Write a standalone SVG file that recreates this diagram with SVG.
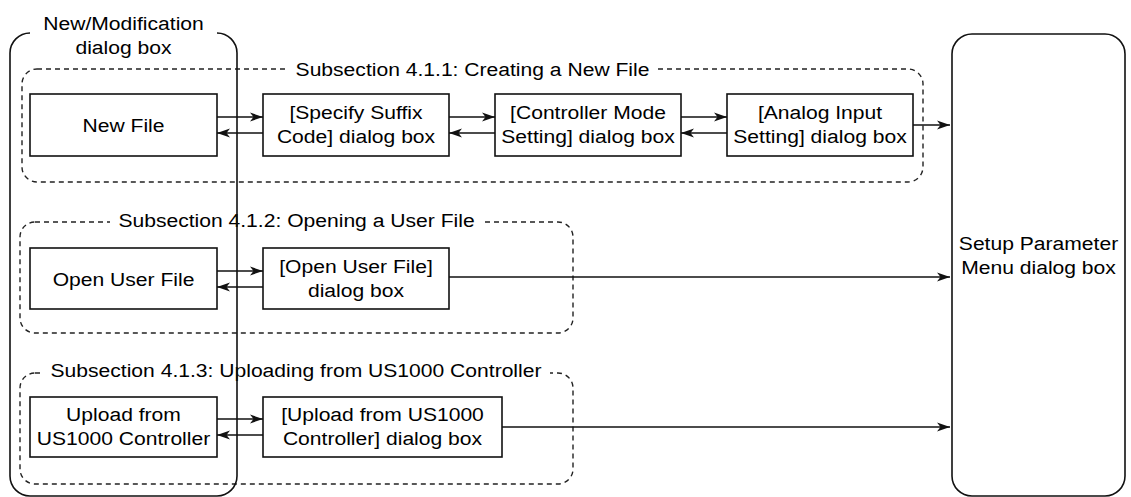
<svg xmlns="http://www.w3.org/2000/svg" width="1131" height="497" viewBox="0 0 1131 497">
<defs>
<style>
.box{fill:#fff;stroke:#111;stroke-width:1.6}
.frame{fill:none;stroke:#111;stroke-width:1.6}
.grp{fill:none;stroke:#222;stroke-width:1.4;stroke-dasharray:5 4}
.bg{fill:#fff;stroke:none}
.t{font-family:"Liberation Sans",Arial,sans-serif;font-size:19px;fill:#000;text-anchor:middle}
.conn{stroke:#111;stroke-width:1.5;fill:none;marker-end:url(#ah)}
</style>
<marker id="ah" markerWidth="14" markerHeight="10" refX="13" refY="5" orient="auto" markerUnits="userSpaceOnUse">
<path d="M0,0.5 L13,5 L0,9.5 L3.5,5 Z" fill="#111"/>
</marker>
</defs>
<rect width="1131" height="497" fill="#fff"/>

<g id="group-4-1-1">
<rect class="grp" x="22" y="69" width="901" height="113" rx="15"/>
<rect class="bg" x="288" y="58" width="369" height="22"/>
<text class="t" transform="translate(472.5 76) scale(1.11 1)">Subsection 4.1.1: Creating a New File</text>
</g>
<g id="group-4-1-2">
<rect class="grp" x="20" y="222" width="553" height="111" rx="15"/>
<rect class="bg" x="110" y="211" width="372" height="22"/>
<text class="t" transform="translate(296.5 227) scale(1.11 1)">Subsection 4.1.2: Opening a User File</text>
</g>
<g id="group-4-1-3">
<rect class="grp" x="20" y="373" width="553" height="111" rx="15"/>
<rect class="bg" x="42" y="362" width="508" height="22"/>
<text class="t" transform="translate(296 377) scale(1.11 1)">Subsection 4.1.3: Uploading from US1000 Controller</text>
</g>

<g id="node-new-file">
<rect class="box" x="30" y="94" width="187" height="62"/>
<text class="t" transform="translate(123.5 132) scale(1.11 1)">New File</text>
</g>
<g id="node-specify-suffix">
<rect class="box" x="263" y="94" width="186" height="62"/>
<text class="t" transform="translate(356 0) scale(1.11 1)"><tspan x="0" y="119">[Specify Suffix</tspan><tspan x="0" y="143">Code] dialog box</tspan></text>
</g>
<g id="node-controller-mode">
<rect class="box" x="495" y="94" width="186" height="62"/>
<text class="t" transform="translate(588 0) scale(1.11 1)"><tspan x="0" y="119">[Controller Mode</tspan><tspan x="0" y="143">Setting] dialog box</tspan></text>
</g>
<g id="node-analog-input">
<rect class="box" x="727" y="94" width="186" height="62"/>
<text class="t" transform="translate(820 0) scale(1.11 1)"><tspan x="0" y="119">[Analog Input</tspan><tspan x="0" y="143">Setting] dialog box</tspan></text>
</g>
<g id="node-open-user-file">
<rect class="box" x="30" y="248" width="187" height="61"/>
<text class="t" transform="translate(123.5 286) scale(1.11 1)">Open User File</text>
</g>
<g id="node-open-user-file-dialog">
<rect class="box" x="263" y="248" width="186" height="61"/>
<text class="t" transform="translate(356 0) scale(1.11 1)"><tspan x="0" y="273">[Open User File]</tspan><tspan x="0" y="297">dialog box</tspan></text>
</g>
<g id="node-upload">
<rect class="box" x="30" y="397" width="187" height="60"/>
<text class="t" transform="translate(123.5 0) scale(1.11 1)"><tspan x="0" y="421">Upload from</tspan><tspan x="0" y="445">US1000 Controller</tspan></text>
</g>
<g id="node-upload-dialog">
<rect class="box" x="263" y="397" width="239" height="60"/>
<text class="t" transform="translate(382.5 0) scale(1.11 1)"><tspan x="0" y="421">[Upload from US1000</tspan><tspan x="0" y="445">Controller] dialog box</tspan></text>
</g>

<g id="connectors">
<line class="conn" x1="217" y1="117" x2="263" y2="117"/>
<line class="conn" x1="263" y1="133" x2="217" y2="133"/>
<line class="conn" x1="449" y1="117" x2="495" y2="117"/>
<line class="conn" x1="495" y1="133" x2="449" y2="133"/>
<line class="conn" x1="681" y1="117" x2="727" y2="117"/>
<line class="conn" x1="727" y1="133" x2="681" y2="133"/>
<line class="conn" x1="913" y1="125" x2="950" y2="125"/>
<line class="conn" x1="217" y1="271" x2="263" y2="271"/>
<line class="conn" x1="263" y1="287" x2="217" y2="287"/>
<line class="conn" x1="449" y1="277" x2="950" y2="277"/>
<line class="conn" x1="217" y1="419" x2="263" y2="419"/>
<line class="conn" x1="263" y1="435" x2="217" y2="435"/>
<line class="conn" x1="502" y1="427" x2="950" y2="427"/>
</g>

<g id="node-new-modification">
<path class="frame" d="M30,33 A20,20 0 0 0 10,53 V476 A20,20 0 0 0 30,496 H217 A20,20 0 0 0 237,476 V53 A20,20 0 0 0 217,33"/>
<text class="t" transform="translate(123.5 0) scale(1.11 1)"><tspan x="0" y="30">New/Modification</tspan><tspan x="0" y="54">dialog box</tspan></text>
</g>
<g id="node-setup-parameter">
<rect class="frame" x="952" y="34" width="173" height="462" rx="20"/>
<text class="t" transform="translate(1038.5 0) scale(1.11 1)"><tspan x="0" y="250">Setup Parameter</tspan><tspan x="0" y="274">Menu dialog box</tspan></text>
</g>
</svg>
